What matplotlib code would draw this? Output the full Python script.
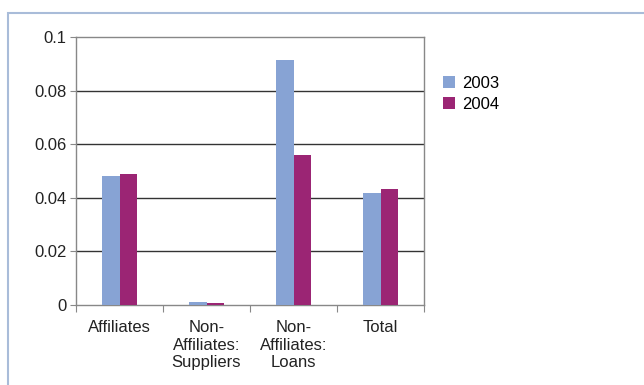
import matplotlib
matplotlib.use("Agg")
import matplotlib.pyplot as plt
from matplotlib.patches import Rectangle
import numpy as np

plt.rcParams['font.family'] = ['Liberation Sans', 'DejaVu Sans']

categories = ["Affiliates", "Non-\nAffiliates:\nSuppliers", "Non-\nAffiliates:\nLoans", "Total"]
series_names = ["2003", "2004"]
values_2003 = [0.0481, 0.0011, 0.0914, 0.0419]
values_2004 = [0.0488, 0.0007, 0.0558, 0.0434]
yticks = [0, 0.02, 0.04, 0.06, 0.08, 0.1]
ytick_labels = ["0", "0.02", "0.04", "0.06", "0.08", "0.1"]

c2003 = "#87A3D4"
c2004 = "#9B2574"
fs = 12

fig = plt.figure(figsize=(6.44, 3.85), dpi=100)
# outer border
fig.patches.append(Rectangle((7.5 / 644, -0.1), 1.2, 1 - 12.5 / 385 + 0.1,
                             transform=fig.transFigure, fill=False,
                             edgecolor="#A9BCD9", linewidth=1.5))

ax = fig.add_axes([76 / 644, 1 - 305 / 385, (424 - 76) / 644, (305 - 37) / 385])
x = np.arange(len(categories))
w = 0.2
ax.bar(x - w / 2, values_2003, width=w, color=c2003, label=series_names[0], zorder=3)
ax.bar(x + w / 2, values_2004, width=w, color=c2004, label=series_names[1], zorder=3)

ax.set_xlim(-0.5, 3.5)
ax.set_ylim(0, 0.1)
ax.set_yticks(yticks)
ax.set_yticklabels(ytick_labels, fontsize=fs, color="#222222")
for yv in yticks[1:-1]:
    ax.axhline(yv, color="#333333", linewidth=1.0, zorder=1)

ax.set_xticks(np.arange(-0.5, 4, 1.0))
ax.set_xticklabels([])
ax.set_xticks(x, minor=True)
ax.set_xticklabels(categories, minor=True, fontsize=fs, color="#222222", linespacing=1.2)
ax.tick_params(axis='x', which='minor', length=0, pad=11)
ax.tick_params(axis='x', which='major', length=5, color="#888888", direction='out')
ax.tick_params(axis='y', length=4, color="#888888", direction='out', pad=3)

for s in ax.spines.values():
    s.set_color("#888888")
    s.set_linewidth(1.0)

leg = fig.legend(loc="upper left", bbox_to_anchor=(443 / 644, 1 - 76 / 385), frameon=False,
                 fontsize=fs, handlelength=0.7, handleheight=0.7, handletextpad=0.45,
                 labelspacing=0.35, borderaxespad=0, borderpad=0)

fig.savefig("out.png", dpi=100)
